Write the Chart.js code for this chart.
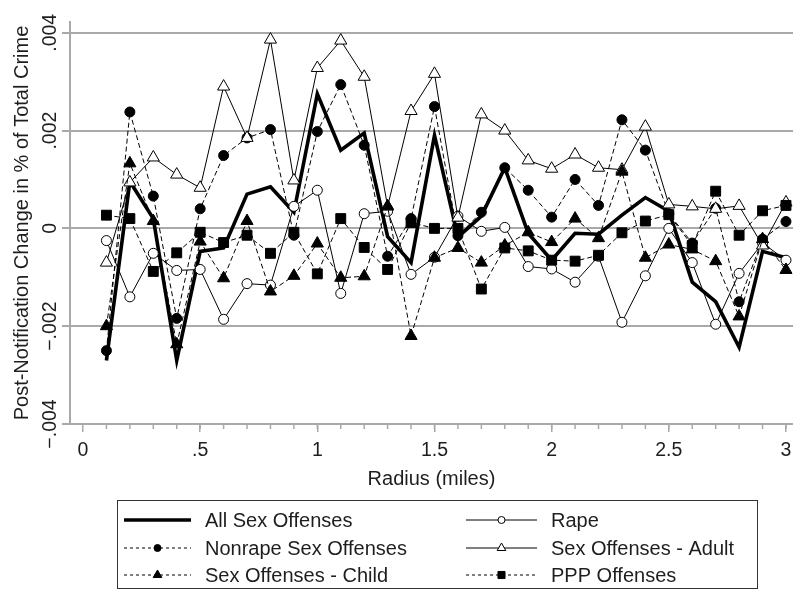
<!DOCTYPE html>
<html>
<head>
<meta charset="utf-8">
<script src="https://cdn.jsdelivr.net/npm/chart.js@4.4.0/dist/chart.umd.min.js"></script>
<style>
  html, body { margin: 0; padding: 0; background: #fff; }
</style>
</head>
<body>
<canvas id="chart" width="793" height="590"></canvas>
<script>
// --- data ---
const radius = [0.1, 0.2, 0.3, 0.4, 0.5, 0.6, 0.7, 0.8, 0.9, 1.0,
                1.1, 1.2, 1.3, 1.4, 1.5, 1.6, 1.7, 1.8, 1.9, 2.0,
                2.1, 2.2, 2.3, 2.4, 2.5, 2.6, 2.7, 2.8, 2.9, 3.0];

const allSex = [-0.0027, 0.00096, 0.0002, -0.0027, -0.00047, -0.0004, 0.0007, 0.00085, 0.00033, 0.00275,
                0.0016, 0.00195, -0.00017, -0.0007, 0.0019, -0.00018, 0.00025, 0.00124, -0.0001, -0.00065,
                -0.0001, -0.00012, 0.00027, 0.00063, 0.00035, -0.0011, -0.0015, -0.00243, -0.00047, -0.0006];

const rape = [-0.00025, -0.0014, -0.00051, -0.00086, -0.00084, -0.00186, -0.00113, -0.00116, 0.00045, 0.00078,
              -0.00133, 0.0003, 0.00035, -0.00094, -0.00059, 0.00025, -0.00006, 0.00002, -0.00078, -0.00083,
              -0.0011, -0.00057, -0.00192, -0.00097, 0.0, -0.0007, -0.00196, -0.00092, -0.0003, -0.00065];

const nonrape = [-0.0025, 0.00238, 0.00066, -0.00184, 0.0004, 0.00149, 0.00185, 0.00202, -0.00014, 0.00198,
                 0.00294, 0.0017, -0.00057, 0.0002, 0.00249, -0.00015, 0.00033, 0.00124, 0.00078, 0.00023,
                 0.001, 0.00047, 0.00222, 0.0016, 0.0003, -0.0003, 0.00041, -0.0015, -0.00022, 0.00014];

const adult = [-0.0007, 0.00094, 0.00145, 0.0011, 0.00083, 0.0029, 0.00185, 0.00386, 0.00098, 0.00328,
               0.00384, 0.0031, 0.00045, 0.0024, 0.00316, 0.00022, 0.00233, 0.002, 0.00139, 0.00122,
               0.00151, 0.00124, 0.0012, 0.00208, 0.00049, 0.00045, 0.0004, 0.00046, -0.00035, 0.00053];

const child = [-0.002, 0.00133, 0.00015, -0.00237, -0.00027, -0.00102, 0.00015, -0.00129, -0.00097, -0.00031,
               -0.00101, -0.00098, 0.00045, -0.0022, -0.0006, -0.0004, -0.0007, -0.00035, -0.00008, -0.00028,
               0.0002, -0.0002, 0.00116, -0.0006, -0.00033, -0.00043, -0.00067, -0.0018, -0.00022, -0.00085];

const ppp = [0.00027, 0.0002, -0.00088, -0.0005, -0.00008, -0.00029, -0.00014, -0.00051, -0.00008, -0.00093,
             0.0002, -0.00039, -0.00084, 0.00012, 0.0, 0.0, -0.00124, -0.0004, -0.00046, -0.00065,
             -0.00067, -0.00055, -0.00009, 0.00015, 0.00028, -0.00035, 0.00076, -0.00014, 0.00036, 0.00047];

const seriesLabels = ['All Sex Offenses', 'Rape', 'Nonrape Sex Offenses',
                      'Sex Offenses - Adult', 'Sex Offenses - Child', 'PPP Offenses'];

const xTicks = [0, 0.5, 1, 1.5, 2, 2.5, 3];
const xTickLabels = ['0', '.5', '1', '1.5', '2', '2.5', '3'];
const yTicks = [-0.004, -0.002, 0, 0.002, 0.004];
const yTickLabels = ['\u2212.004', '\u2212.002', '0', '.002', '.004'];

const xTitle = 'Radius (miles)';
const yTitle = 'Post-Notification Change in % of Total Crime';

// --- styles ---
const FONT = '"Liberation Sans", Arial, Helvetica, sans-serif';
const TEXT = '#1e1e1e';
const GRID = '#a9a9a9';
const FS = 19.5;
const LEG_FS = 20;

Chart.defaults.font.family = FONT;
Chart.defaults.font.size = FS;
Chart.defaults.color = TEXT;

const pts = vals => radius.map((r, i) => ({ x: r, y: vals[i] }));

const mk = (label, vals, o) => Object.assign({
    label,
    data: pts(vals),
    borderColor: '#000',
    borderWidth: 1,
    pointBorderColor: '#000',
    pointBorderWidth: 1,
    pointHoverRadius: 0,
    tension: 0,
    fill: false,
    clip: false,
}, o);

const datasets = [
    mk(seriesLabels[0], allSex, { borderWidth: 3.6, pointRadius: 0, order: 5 }),
    mk(seriesLabels[1], rape, { pointStyle: 'circle', pointRadius: 5, pointBackgroundColor: '#fff', order: 4 }),
    mk(seriesLabels[2], nonrape, { borderDash: [5, 3], pointStyle: 'circle', pointRadius: 5, pointBackgroundColor: '#000', order: 3 }),
    mk(seriesLabels[3], adult, { pointStyle: 'triangle', pointRadius: 7, pointBackgroundColor: '#fff', order: 2 }),
    mk(seriesLabels[4], child, { borderDash: [5, 3], pointStyle: 'triangle', pointRadius: 7, pointBackgroundColor: '#000', order: 1 }),
    mk(seriesLabels[5], ppp, { borderDash: [5, 3], pointStyle: 'rect', pointRadius: 7, pointBackgroundColor: '#000', order: 0 }),
];

// minor ticks, rotated y labels, x title and the boxed legend
const extras = {
    id: 'extras',
    afterDraw(chart) {
        const ctx = chart.ctx;
        const xs = chart.scales.x, ys = chart.scales.y;
        const area = chart.chartArea;
        ctx.save();

        // minor x ticks
        ctx.strokeStyle = GRID;
        ctx.lineWidth = 1.5;
        radius.forEach(r => {
            const px = xs.getPixelForValue(r);
            ctx.beginPath();
            ctx.moveTo(px, xs.top);
            ctx.lineTo(px, xs.top + 5);
            ctx.stroke();
        });

        // y tick labels (rotated)
        ctx.fillStyle = TEXT;
        ctx.font = FS + 'px ' + FONT;
        ctx.textAlign = 'center';
        ctx.textBaseline = 'middle';
        yTicks.forEach((v, i) => {
            ctx.save();
            ctx.translate(51, ys.getPixelForValue(v));
            ctx.rotate(-Math.PI / 2);
            ctx.fillText(yTickLabels[i], 0, 0);
            ctx.restore();
        });

        // x title, centred on the plot region
        ctx.font = LEG_FS + 'px ' + FONT;
        ctx.fillText(xTitle, (area.left + area.right) / 2, 479);

        // legend
        const box = { x: 117.5, y: 500.5, w: 640, h: 88 };
        ctx.strokeStyle = '#333';
        ctx.lineWidth = 1;
        ctx.setLineDash([]);
        ctx.strokeRect(box.x, box.y, box.w, box.h);

        const rows = [520, 548, 575];
        const cols = [{ x0: 124, x1: 191, tx: 205 }, { x0: 466, x1: 537, tx: 551 }];
        chart.data.datasets.forEach((ds, i) => {
            const c = cols[i % 2], y = rows[Math.floor(i / 2)];
            ctx.setLineDash(ds.borderDash ? [3, 3] : []);
            ctx.lineWidth = ds.borderWidth;
            ctx.strokeStyle = '#000';
            ctx.beginPath();
            ctx.moveTo(c.x0, y);
            ctx.lineTo(c.x1, y);
            ctx.stroke();
            ctx.setLineDash([]);
            if (ds.pointRadius > 0) {
                ctx.fillStyle = ds.pointBackgroundColor;
                ctx.strokeStyle = '#000';
                ctx.lineWidth = 1;
                Chart.helpers.drawPoint(ctx, {
                    pointStyle: ds.pointStyle,
                    radius: ds.pointStyle === 'circle' ? 3.5 : 5,
                    rotation: 0,
                    borderWidth: 1,
                }, (c.x0 + c.x1) / 2, y);
            }
            ctx.fillStyle = TEXT;
            ctx.textAlign = 'left';
            ctx.textBaseline = 'middle';
            ctx.font = LEG_FS + 'px ' + FONT;
            ctx.fillText(ds.label, c.tx, y + 1);
        });
        ctx.restore();
    }
};

new Chart(document.getElementById('chart').getContext('2d'), {
    type: 'line',
    data: { datasets },
    options: {
        responsive: false,
        animation: false,
        devicePixelRatio: 1,
        layout: { autoPadding: false, padding: { top: 22, right: 0, bottom: 98, left: 0 } },
        plugins: { legend: { display: false }, tooltip: { enabled: false } },
        scales: {
            x: {
                type: 'linear',
                min: -0.0555,
                max: 3.03,
                afterBuildTicks: s => { s.ticks = xTicks.map(v => ({ value: v })); },
                afterFit: s => { s.height = 68; s.paddingLeft = 0; s.paddingRight = 0; },
                ticks: {
                    autoSkip: false,
                    maxRotation: 0,
                    padding: 7,
                    color: TEXT,
                    callback: v => xTickLabels[xTicks.indexOf(v)],
                },
                grid: { drawOnChartArea: false, drawTicks: true, tickLength: 8, color: GRID, lineWidth: 1.5 },
                border: { display: true, color: GRID, width: 2 },
                title: { display: false },
            },
            y: {
                type: 'linear',
                min: -0.004,
                max: 0.00422,
                afterBuildTicks: s => { s.ticks = yTicks.map(v => ({ value: v })); },
                afterFit: s => { s.width = 70; s.paddingTop = 0; s.paddingBottom = 0; },
                ticks: { display: false },
                grid: { drawTicks: true, tickLength: 8, color: GRID, lineWidth: 2 },
                border: { display: true, color: GRID, width: 2 },
                title: { display: true, text: yTitle, color: TEXT, font: { size: 20 }, padding: { top: 10, bottom: 0 } },
            },
        },
    },
    plugins: [extras],
});
</script>
</body>
</html>
